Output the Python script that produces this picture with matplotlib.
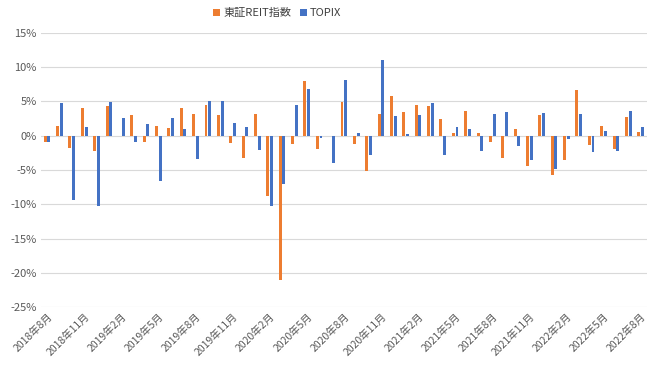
import matplotlib
matplotlib.use("Agg")
import matplotlib.pyplot as plt
import numpy as np

plt.rcParams['font.family'] = ['Noto Sans CJK JP', 'DejaVu Sans']

months = [f"{y}年{m}月" for y, m in
          [(2018, m) for m in range(8, 13)] +
          [(2019, m) for m in range(1, 13)] +
          [(2020, m) for m in range(1, 13)] +
          [(2021, m) for m in range(1, 13)] +
          [(2022, m) for m in range(1, 9)]]

reit = [-0.9, 1.4, -1.75, 4.0, -2.3, 4.3, 0.0, 3.0, -1.0, 1.45,
        1.1, 4.0, 3.2, 4.5, 3.05, -1.15, -3.3, 3.2, -8.8, -21.0,
        -1.2, 7.9, -2.0, -0.1, 4.95, -1.2, -5.2, 3.2, 5.7, 3.5,
        4.4, 4.3, 2.4, 0.45, 3.65, 0.4, -0.9, -3.3, 1.0, -4.4,
        3.05, -5.8, -3.6, 6.65, -1.36, 1.4, -1.9, 2.7, 0.5]
topix = [-1.0, 4.7, -9.4, 1.25, -10.3, 4.85, 2.5, -1.0, 1.65, -6.55,
         2.5, 0.9, -3.45, 5.0, 5.0, 1.9, 1.2, -2.1, -10.3, -7.1,
         4.4, 6.8, -0.3, -4.0, 8.1, 0.35, -2.8, 11.0, 2.8, 0.2,
         3.0, 4.75, -2.85, 1.2, 1.0, -2.2, 3.1, 3.45, -1.45, -3.6,
         3.25, -4.8, -0.5, 3.1, -2.4, 0.6, -2.2, 3.65, 1.2]

series_names = ["東証REIT指数", "TOPIX"]
colors = ["#ED7D31", "#4472C4"]
yticks = list(range(-25, 20, 5))

fig = plt.figure(figsize=(6.6, 3.71), dpi=100)
ax = fig.add_axes([0.062, 0.172, 0.918, 0.740])

x = np.arange(len(months))
w = 0.24
b1 = ax.bar(x - 0.15, reit, width=w, color=colors[0], label=series_names[0], zorder=3)
b2 = ax.bar(x + 0.15, topix, width=w, color=colors[1], label=series_names[1], zorder=3)

ax.set_xlim(-0.5, len(months) - 0.5)
ax.set_ylim(-25, 15)
ax.set_yticks(yticks)
ax.set_yticklabels([f"{v}%" for v in yticks], fontsize=8, color="#595959")
ax.yaxis.grid(True, color="#D9D9D9", linewidth=0.8, zorder=0)
ax.set_axisbelow(True)

ax.set_xticks(x[::3])
ax.set_xticklabels(months[::3], rotation=45, ha='right', rotation_mode='anchor',
                   fontsize=7.5, color="#595959")
ax.tick_params(axis='both', length=0, pad=3)
for s in ax.spines.values():
    s.set_visible(False)

fig.legend(handles=[b1, b2], labels=series_names, loc='center',
           bbox_to_anchor=(0.42, 0.965), ncol=2, frameon=False,
           fontsize=8, handlelength=0.6, handleheight=0.6,
           handletextpad=0.3, columnspacing=0.8, labelcolor="#404040")

fig.savefig("out.png", dpi=100, facecolor="white")
